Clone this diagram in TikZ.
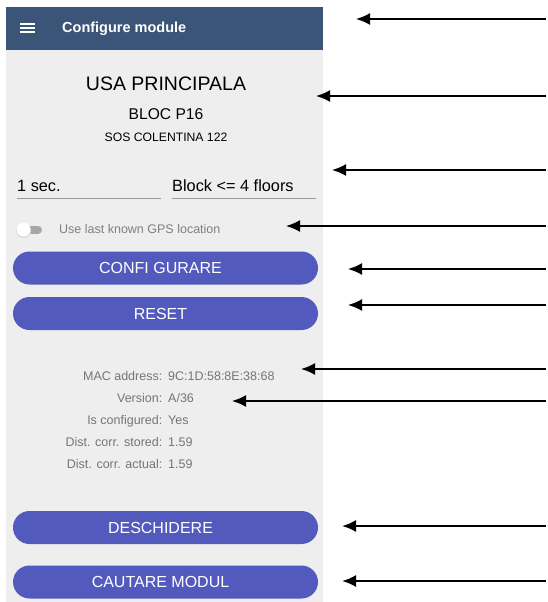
\documentclass[tikz,border=0pt]{standalone}
\usepackage{fontspec}
\setmainfont{Liberation Sans}
\usetikzlibrary{arrows.meta}

\definecolor{barblue}{HTML}{3A5578}
\definecolor{btnblue}{HTML}{525ABE}
\definecolor{panelgrey}{HTML}{EEEEEE}
\definecolor{infogrey}{HTML}{757575}

\tikzset{
	pointer/.style={-{Latex[length=14pt,width=12pt]}, line width=2pt, black},
	btn/.style={fill=btnblue, rounded corners=16.5pt, minimum width=305pt,
		minimum height=33pt, inner sep=0pt},
	btntext/.style={text=white, inner sep=0pt, font=\fontsize{16}{19}\selectfont},
	info/.style={text=infogrey, inner sep=0pt, font=\fontsize{12.5}{15}\selectfont},
	field/.style={inner sep=0pt, anchor=base west, font=\fontsize{16.3}{19}\selectfont},
	fieldline/.style={draw=gray!80, line width=0.8pt}
}

\begin{document}
\begin{tikzpicture}[x=1pt,y=-1pt]
		\useasboundingbox (0,0) rectangle (548,602);
		
		% screen
		\fill[panelgrey] (6,50) rectangle (323,602);
		\fill[barblue] (6,7) rectangle (323,50);
		\draw[white, line width=2pt] (20,24.5) -- (35,24.5) (20,28.5) -- (35,28.5) (20,32.5) -- (35,32.5);
		\node[anchor=base west, text=white, inner sep=0pt, font=\bfseries\fontsize{14.5}{18}\selectfont] (title) at (62,33) {Configure module};
		
		\node[anchor=base, inner sep=0pt, font=\fontsize{19.5}{23}\selectfont] (usa) at (166,90) {USA PRINCIPALA};
		\node[anchor=base, inner sep=0pt, font=\fontsize{15.6}{18}\selectfont] (bloc) at (166,119) {BLOC P16};
		\node[anchor=base, inner sep=0pt, font=\fontsize{12.2}{14}\selectfont] (sos) at (166,141.5) {SOS COLENTINA 122};
		
		\node[field] (sec) at (17,191.5) {1 sec.};
		\node[field] (floors) at (172,191.5) {Block <= 4 floors};
		\draw[fieldline] (17,198) -- (161,198);
		\draw[fieldline] (172,198) -- (316,198);
		
		% toggle
		\draw[gray!70, line width=8pt, line cap=round] (25,229.5) -- (38,229.5);
		\fill[black!15] (23.5,230.5) circle (7.5pt);
		\fill[white] (23.5,229.5) circle (7pt);
		\node[info, anchor=base west, text=gray] (gps) at (59,233.5) {Use last known GPS location};
		
		\node[btn] (confi) at (165.5,268) {};
		\node[btntext] (confitext) at ([xshift=-5pt]confi.center) {CONFI GURARE};
		\node[btn] (reset) at (165.5,313.5) {};
		\node[btntext] (resettext) at ([xshift=-5pt]reset.center) {RESET};
		
		\node[info, anchor=base east] (macl) at (162.5,380) {MAC address:};
		\node[info, anchor=base west] (macv) at (168,380) {9C:1D:58:8E:38:68};
		\node[info, anchor=base east] (verl) at (162.5,402) {Version:};
		\node[info, anchor=base west] (verv) at (168,402) {A/36};
		\node[info, anchor=base east] (cfgl) at (162.5,424.5) {Is configured:};
		\node[info, anchor=base west] (cfgv) at (168,424.5) {Yes};
		\node[info, anchor=base east] (stol) at (162.5,446.5) {Dist. corr. stored:};
		\node[info, anchor=base west] (stov) at (168,446.5) {1.59};
		\node[info, anchor=base east] (actl) at (162.5,468) {Dist. corr. actual:};
		\node[info, anchor=base west] (actv) at (168,468) {1.59};
		
		\node[btn] (desc) at (165.5,527.5) {};
		\node[btntext] (desctext) at ([xshift=-5pt]desc.center) {DESCHIDERE};
		\node[btn] (caut) at (165.5,582) {};
		\node[btntext] (cauttext) at ([xshift=-5pt]caut.center) {CAUTARE MODUL};
		
		% arrows
		\coordinate (a1) at (546,19);    \coordinate (p1) at (356,19);
		\coordinate (a2) at (546,96);    \coordinate (p2) at (316,96);
		\coordinate (a3) at (546,170);   \coordinate (p3) at (332,170);
		\coordinate (a4) at (546,226);   \coordinate (p4) at (286,226);
		\coordinate (a5) at (546,269);   \coordinate (p5) at (348,269);
		\coordinate (a6) at (546,305);   \coordinate (p6) at (348,305);
		\coordinate (a7) at (546,369);   \coordinate (p7) at (301,369);
		\coordinate (a8) at (546,401);   \coordinate (p8) at (232,401);
		\coordinate (a9) at (546,526);   \coordinate (p9) at (342,526);
		\coordinate (a10) at (546,581);  \coordinate (p10) at (342,581);
		\draw[pointer] (a1) -- (p1);
		\draw[pointer] (a2) -- (p2);
		\draw[pointer] (a3) -- (p3);
		\draw[pointer] (a4) -- (p4);
		\draw[pointer] (a5) -- (p5);
		\draw[pointer] (a6) -- (p6);
		\draw[pointer] (a7) -- (p7);
		\draw[pointer] (a8) -- (p8);
		\draw[pointer] (a9) -- (p9);
		\draw[pointer] (a10) -- (p10);
\end{tikzpicture}
\end{document}
